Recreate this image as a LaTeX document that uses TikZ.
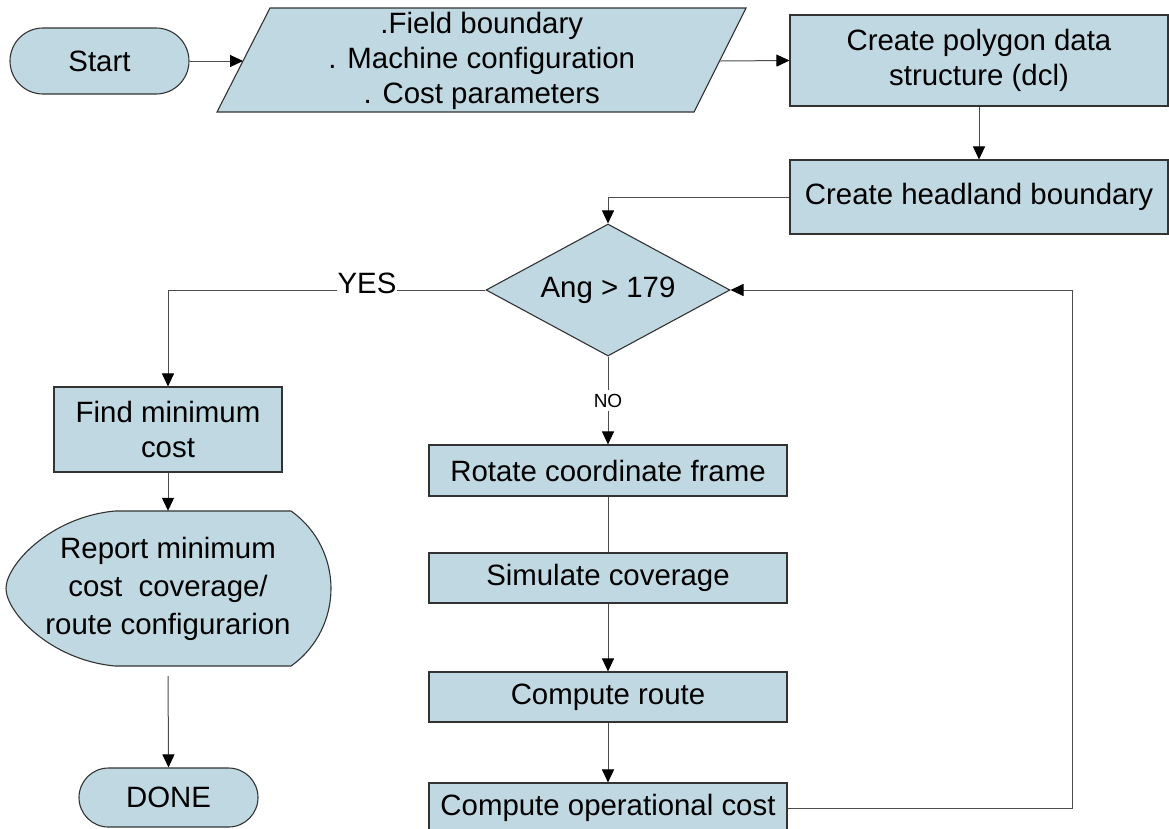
\documentclass[tikz,border=0pt]{standalone}
\usepackage{fontspec}
\setmainfont{Liberation Sans}
\usetikzlibrary{arrows.meta,shapes.geometric}
\definecolor{boxfill}{RGB}{191,216,225}
\begin{document}
\begin{tikzpicture}[x=1pt,y=-1pt,
  every node/.style={font=\fontsize{29.4}{35}\selectfont, text=black},
  box/.style={draw=black!80, fill=boxfill, line width=1.1pt, align=center, inner sep=0pt},
  term/.style={box, rounded corners=#1},
  txt/.style={align=center, inner sep=0pt},
  conn/.style={draw=black!70, line width=1pt},
  arr/.style={conn, -{Triangle[length=13pt,width=12pt,color=black]}},
  smalllabel/.style={font=\fontsize{19}{22}\selectfont, fill=white, inner xsep=1pt, inner ysep=4pt}
]
\useasboundingbox (0,0) rectangle (1169,828);
\clip (0,0) rectangle (1169,828);

% Start
\node[term=33pt, minimum width=179pt, minimum height=66pt] (start) at (99.5,61) {Start};

% Input parallelogram
\draw[box] (270,8) -- (746,8) -- (694,112) -- (217,112) -- cycle;
\node[txt, minimum width=477pt, minimum height=104pt] (input) at (481.75,61)
  {.Field boundary\\. Machine configuration\\. Cost parameters};

% Right column
\node[box, minimum width=378pt, minimum height=91pt] (poly) at (979,60.5)
  {Create polygon data\\structure (dcl)};
\node[box, minimum width=378pt, minimum height=74pt] (head) at (979,197)
  {Create headland boundary};

% Decision
\node[box, shape=diamond, aspect=1.85, minimum width=244pt, minimum height=132pt] (dec) at (608,290)
  {Ang > 179};

% Middle column
\node[box, minimum width=358pt, minimum height=51pt] (rotate) at (608,470.5) {Rotate coordinate frame};
\node[box, minimum width=358pt, minimum height=50pt] (simulate) at (608,578) {Simulate coverage};
\node[box, minimum width=358pt, minimum height=50pt] (route) at (608,697) {Compute route};
\node[box, minimum width=358pt, minimum height=50pt] (opcost) at (608,808) {Compute operational cost};

% Left column
\node[box, minimum width=228pt, minimum height=85pt] (findmin) at (168,429.5) {Find minimum\\cost};
\draw[box] (115,511) -- (291,511)
  .. controls (318,530) and (331,560) .. (331,588.5)
  .. controls (331,617) and (318,647) .. (291,666)
  -- (115,666)
  .. controls (50,660) and (6,612) .. (6,588.5)
  .. controls (6,565) and (50,517) .. (115,511) -- cycle;
\node[txt, minimum width=325pt, minimum height=155pt, font=\fontsize{29.4}{38}\selectfont] (report) at (168,588.5)
  {Report minimum\\cost\ \ coverage/\\route configurarion};
\node[term=29.5pt, minimum width=179pt, minimum height=59pt] (done) at (168.5,797.5) {DONE};

% Connectors
\draw[arr] (start.east) -- (input.west);
\draw[arr] (input.east) -- (poly.west);
\draw[arr] (poly) -- (head);
\draw[arr] (head.west) -| (dec.north);

\node[txt, anchor=base] (yes) at (367,293) {YES};
\draw[conn] (dec.west) -- (dec.west -| yes.east);
\draw[arr] (dec.west -| yes.west) -| (findmin.north);

\draw[arr] (dec.south) -- node[smalllabel] (no) {NO} (rotate.north);
\draw[conn] (rotate) -- (simulate);
\draw[arr] (simulate) -- (route);
\draw[arr] (route) -- (opcost);
\coordinate (loop) at (1072,290);
\draw[arr] (opcost.east) -| (loop) -- (dec.east);

\draw[arr] (findmin) -- (report);
\draw[arr, shorten <=10pt] (report.south) -- (done.north);
\end{tikzpicture}
\end{document}
